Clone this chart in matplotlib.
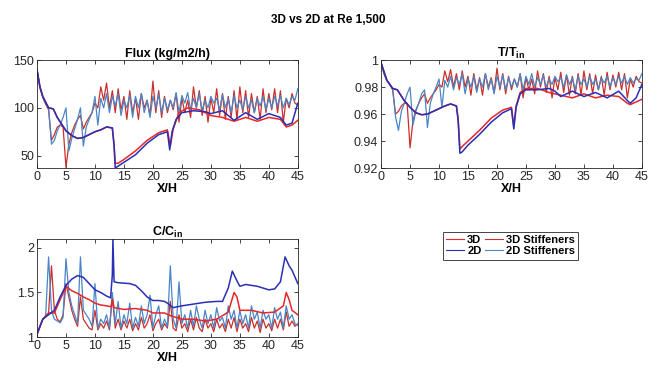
import numpy as np
import matplotlib
matplotlib.use("Agg")
import matplotlib.pyplot as plt
from matplotlib.lines import Line2D

plt.rcParams['font.family'] = ['Liberation Sans', 'DejaVu Sans']
plt.rcParams['mathtext.fontset'] = 'custom'
plt.rcParams['mathtext.bf'] = 'Liberation Sans:bold'
plt.rcParams['mathtext.rm'] = 'Liberation Sans'

# common grid for the stiffener runs
xs = np.arange(0, 45.5, 0.5)

# ---- Flux (kg/m2/h) ----
flux_2d_x = [0, 0.5, 1, 2, 2.8, 3.5, 5, 6, 7, 8, 9, 10, 11, 12, 13, 13.3, 13.5,
             14, 15, 17, 19, 21, 22.5, 22.9, 23.3, 24, 25, 27, 29, 30, 32, 34,
             36, 38, 40, 42, 43, 44, 45]
flux_2d = [140, 122, 112, 100, 99, 90, 76, 71, 68, 69, 72, 75, 77, 80, 79, 60, 37,
           39, 43, 51, 63, 72, 75, 56, 75, 88, 95, 97, 96, 94, 97, 87,
           95, 88, 94, 90, 82, 84, 105]
flux_3d_x = [0, 0.5, 1, 2, 2.8, 3.5, 5, 6, 7, 8, 9, 10, 11, 12, 13, 13.3, 13.5,
             14, 15, 17, 19, 21, 22.5, 23, 23.5, 24.5, 26, 28, 30, 32, 34, 36,
             38, 40, 42, 43, 44, 45]
flux_3d = [140, 122, 112, 100, 99, 90, 76, 71, 68, 69, 72, 75, 77, 80, 79, 62, 42,
           42, 46, 55, 66, 74, 77, 60, 78, 95, 100, 98, 92, 90, 86, 90,
           86, 90, 88, 80, 82, 87]
flux_2d_stiff = [140, 122, 111, 104, 100, 62, 66, 76, 82, 90, 100, 55, 68, 78, 88, 100,
                 60, 80, 88, 95, 112, 82, 110, 100, 115, 95, 112, 102, 115, 92,
                 108, 100, 113, 90, 112, 100, 115, 95, 108, 90, 112, 100, 114, 95,
                 110, 98, 108, 100, 116, 95, 113, 105, 116, 98, 110, 100, 115, 97,
                 108, 100, 112, 105, 110, 98, 114, 100, 110, 95, 113, 100, 108, 98,
                 112, 100, 108, 95, 110, 102, 112, 98, 110, 100, 112, 102, 113, 100,
                 110, 103, 112, 108, 120]
flux_3d_stiff = [140, 122, 111, 104, 98, 66, 72, 80, 82, 80, 38, 62, 74, 82, 88, 92,
                 78, 85, 90, 95, 105, 100, 122, 108, 126, 100, 118, 95, 120, 98,
                 112, 88, 118, 95, 110, 88, 115, 100, 108, 92, 128, 95, 118, 90,
                 112, 95, 108, 98, 115, 85, 110, 95, 108, 90, 122, 100, 118, 92,
                 112, 85, 110, 95, 120, 92, 115, 88, 112, 90, 118, 88, 122, 95,
                 118, 90, 115, 95, 112, 88, 120, 95, 115, 98, 120, 95, 118, 85,
                 110, 100, 115, 105, 103]

# ---- T/Tin ----
t_2d_x = [0, 1, 2, 2.8, 4, 5, 6, 7, 8, 9, 10, 11, 12, 13, 13.3, 13.6, 14, 15, 17,
          19, 21, 22.5, 22.9, 23.3, 24, 25, 27, 29, 30, 31, 33, 35, 37, 39, 41,
          42.5, 43, 44, 45]
t_2d = [0.998, 0.985, 0.979, 0.978, 0.970, 0.965, 0.961, 0.9595, 0.960, 0.962,
        0.964, 0.966, 0.9675, 0.966, 0.955, 0.931, 0.932, 0.937, 0.945, 0.954,
        0.961, 0.964, 0.949, 0.965, 0.975, 0.978, 0.978, 0.979, 0.977, 0.973,
        0.977, 0.973, 0.976, 0.972, 0.977, 0.970, 0.968, 0.972, 0.982]
t_3d_x = [0, 1, 2, 2.8, 4, 5, 6, 7, 8, 9, 10, 11, 12, 13, 13.3, 13.6, 14, 15, 17,
          19, 21, 22.5, 22.9, 23.3, 24, 25, 27, 29, 31, 33, 35, 37, 39, 41, 42.5,
          43, 44, 45]
t_3d = [0.998, 0.985, 0.979, 0.978, 0.970, 0.965, 0.961, 0.9595, 0.960, 0.962,
        0.964, 0.966, 0.9675, 0.966, 0.957, 0.934, 0.936, 0.940, 0.948, 0.957,
        0.963, 0.965, 0.951, 0.966, 0.976, 0.979, 0.979, 0.976, 0.974, 0.972,
        0.975, 0.972, 0.974, 0.973, 0.968, 0.967, 0.969, 0.971]
t_2d_stiff = [0.998, 0.990, 0.985, 0.982, 0.979, 0.958, 0.948, 0.962, 0.968, 0.975,
              0.980, 0.952, 0.962, 0.968, 0.975, 0.978, 0.950, 0.968, 0.975, 0.980,
              0.986, 0.965, 0.985, 0.980, 0.988, 0.978, 0.987, 0.982, 0.990, 0.975,
              0.986, 0.980, 0.988, 0.976, 0.986, 0.980, 0.990, 0.978, 0.986, 0.975,
              0.988, 0.980, 0.989, 0.978, 0.987, 0.980, 0.986, 0.980, 0.990, 0.978,
              0.988, 0.982, 0.990, 0.980, 0.987, 0.982, 0.989, 0.980, 0.986, 0.982,
              0.988, 0.984, 0.987, 0.980, 0.989, 0.982, 0.987, 0.978, 0.988, 0.982,
              0.986, 0.980, 0.988, 0.982, 0.986, 0.978, 0.987, 0.983, 0.988, 0.980,
              0.987, 0.982, 0.988, 0.983, 0.988, 0.982, 0.987, 0.983, 0.986, 0.985,
              0.990]
t_3d_stiff = [0.998, 0.990, 0.985, 0.982, 0.978, 0.960, 0.962, 0.966, 0.968, 0.968,
              0.935, 0.955, 0.963, 0.968, 0.972, 0.975, 0.968, 0.972, 0.975, 0.978,
              0.982, 0.980, 0.992, 0.984, 0.993, 0.980, 0.990, 0.978, 0.992, 0.980,
              0.988, 0.974, 0.990, 0.978, 0.987, 0.974, 0.990, 0.980, 0.987, 0.976,
              0.994, 0.978, 0.990, 0.975, 0.988, 0.978, 0.986, 0.980, 0.990, 0.972,
              0.987, 0.978, 0.986, 0.975, 0.992, 0.980, 0.990, 0.976, 0.988, 0.972,
              0.987, 0.978, 0.991, 0.976, 0.989, 0.974, 0.988, 0.975, 0.990, 0.974,
              0.992, 0.978, 0.990, 0.975, 0.989, 0.978, 0.988, 0.974, 0.991, 0.978,
              0.989, 0.980, 0.991, 0.978, 0.990, 0.972, 0.986, 0.980, 0.988, 0.984,
              0.983]

# ---- C/Cin ----
c_2d_x = [0, 1, 2, 3, 4, 5, 6, 7, 8, 9, 10, 11, 12, 12.7, 13, 13.1, 13.3, 14, 16,
          17, 18, 19, 20, 21, 22, 22.5, 23.5, 25, 27, 29, 31, 32, 33, 33.7, 34.5,
          35, 36, 38, 40, 41, 42, 42.8, 43.5, 44, 45]
c_2d = [1.03, 1.20, 1.25, 1.30, 1.45, 1.58, 1.65, 1.69, 1.67, 1.60, 1.53, 1.50,
        1.46, 1.44, 1.70, 2.10, 1.62, 1.61, 1.60, 1.58, 1.52, 1.45, 1.41, 1.41,
        1.40, 1.38, 1.33, 1.35, 1.37, 1.39, 1.40, 1.40, 1.55, 1.74, 1.63, 1.57,
        1.59, 1.57, 1.53, 1.54, 1.62, 1.90, 1.80, 1.75, 1.60]
c_3d_x = [0, 1, 2, 3, 4, 5, 6, 7, 8, 9, 10, 11, 12, 12.8, 13, 13.3, 15, 17, 19, 20,
          22, 23, 25, 27, 29, 31, 33, 34, 34.5, 35, 37, 39, 41, 42.5, 43, 43.5,
          44, 45]
c_3d = [1.03, 1.20, 1.27, 1.27, 1.42, 1.57, 1.52, 1.49, 1.45, 1.42, 1.38, 1.36,
        1.35, 1.34, 1.42, 1.33, 1.31, 1.32, 1.30, 1.27, 1.27, 1.24, 1.20, 1.20,
        1.18, 1.20, 1.28, 1.50, 1.45, 1.30, 1.30, 1.27, 1.28, 1.35, 1.50, 1.42,
        1.30, 1.25]
c_2d_stiff = [1.03, 1.12, 1.20, 1.24, 1.90, 1.30, 1.20, 1.18, 1.16, 1.22, 1.88,
              1.50, 1.35, 1.25, 1.15, 1.90, 1.30, 1.25, 1.20, 1.12, 1.60, 1.10,
              1.20, 1.15, 1.25, 1.10, 1.50, 1.15, 1.40, 1.10, 1.25, 1.15, 1.38,
              1.10, 1.22, 1.12, 1.35, 1.15, 1.25, 1.47, 1.10, 1.25, 1.35, 1.10,
              1.20, 1.12, 1.80, 1.20, 1.10, 1.62, 1.15, 1.25, 1.10, 1.30, 1.12,
              1.35, 1.20, 1.10, 1.30, 1.15, 1.25, 1.10, 1.33, 1.18, 1.22, 1.10,
              1.35, 1.20, 1.30, 1.10, 1.30, 1.15, 1.25, 1.10, 1.35, 1.20, 1.28,
              1.10, 1.30, 1.20, 1.25, 1.10, 1.33, 1.20, 1.28, 1.10, 1.35, 1.20,
              1.25, 1.15, 1.13]
c_3d_stiff = [1.03, 1.12, 1.20, 1.24, 1.27, 1.80, 1.30, 1.20, 1.17, 1.25, 1.60,
              1.45, 1.30, 1.20, 1.12, 1.45, 1.20, 1.15, 1.10, 1.08, 1.30, 1.08,
              1.15, 1.10, 1.18, 1.08, 1.45, 1.10, 1.20, 1.08, 1.18, 1.10, 1.20,
              1.07, 1.15, 1.08, 1.22, 1.10, 1.15, 1.25, 1.07, 1.15, 1.20, 1.08,
              1.15, 1.10, 1.40, 1.10, 1.07, 1.25, 1.10, 1.15, 1.06, 1.20, 1.08,
              1.22, 1.10, 1.06, 1.20, 1.10, 1.15, 1.06, 1.20, 1.10, 1.15, 1.06,
              1.20, 1.10, 1.22, 1.06, 1.20, 1.10, 1.15, 1.06, 1.22, 1.10, 1.18,
              1.05, 1.20, 1.10, 1.15, 1.07, 1.20, 1.10, 1.20, 1.08, 1.28, 1.12,
              1.18, 1.12, 1.15]

C3D = '#e8262a'
C3DS = '#c9302c'
C2D = '#2a2fb5'
C2DS = '#4a85c5'
TXT = '#262626'


def style_axes(ax, title, ylim, yticks):
    ax.set_xlim(0, 45)
    ax.set_ylim(*ylim)
    ax.set_xticks(range(0, 46, 5))
    ax.set_yticks(yticks)
    ax.set_yticklabels(['{:g}'.format(v) for v in yticks])
    ax.tick_params(direction='in', length=3, width=0.6, labelsize=9,
                   colors=TXT, top=True, right=True, pad=2)
    for sp in ax.spines.values():
        sp.set_linewidth(0.6)
        sp.set_color(TXT)
    ax.set_title(title, fontsize=9, fontweight='bold', pad=2, color='black')
    ax.set_xlabel('X/H', fontsize=9, fontweight='bold', labelpad=0)


fig = plt.figure(figsize=(6.57, 3.71), dpi=100)
fig.suptitle('3D vs 2D at Re 1,500', fontsize=8.5, fontweight='bold', y=0.962)

ax1 = fig.add_axes([0.0563, 0.547, 0.397, 0.291])
ax1.plot(xs, flux_3d_stiff, color=C3DS, lw=0.9)
ax1.plot(xs, flux_2d_stiff, color=C2DS, lw=0.9)
ax1.plot(flux_3d_x, flux_3d, color=C3D, lw=1.1)
ax1.plot(flux_2d_x, flux_2d, color=C2D, lw=1.1)
style_axes(ax1, 'Flux (kg/m2/h)', (37, 150), [50, 100, 150])

ax2 = fig.add_axes([0.580, 0.547, 0.397, 0.291])
ax2.plot(xs, t_3d_stiff, color=C3DS, lw=0.9)
ax2.plot(xs, t_2d_stiff, color=C2DS, lw=0.9)
ax2.plot(t_3d_x, t_3d, color=C3D, lw=1.1)
ax2.plot(t_2d_x, t_2d, color=C2D, lw=1.1)
style_axes(ax2, r'T/T$_\mathbf{in}$', (0.92, 1.0), [0.92, 0.94, 0.96, 0.98, 1.0])

ax3 = fig.add_axes([0.0563, 0.0916, 0.397, 0.264])
ax3.plot(xs, c_3d_stiff, color=C3DS, lw=0.9)
ax3.plot(xs, c_2d_stiff, color=C2DS, lw=0.9)
ax3.plot(c_3d_x, c_3d, color=C3D, lw=1.1)
ax3.plot(c_2d_x, c_2d, color=C2D, lw=1.1)
style_axes(ax3, r'C/C$_\mathbf{in}$', (1.0, 2.1), [1, 1.5, 2])

handles = [Line2D([], [], color=c, lw=0.8) for c in (C3D, C2D, C3DS, C2DS)]
leg = fig.legend(handles, ['3D', '2D', '3D Stiffeners', '2D Stiffeners'],
                 ncol=2, loc='upper left', bbox_to_anchor=(0.674, 0.375),
                 borderaxespad=0, prop={'weight': 'bold', 'size': 8},
                 handlelength=1.6, handletextpad=0.3, columnspacing=0.3,
                 labelspacing=0.1, borderpad=0.3, fancybox=False, framealpha=1)
leg.get_frame().set_edgecolor(TXT)
leg.get_frame().set_linewidth(0.6)

fig.savefig('out.png', dpi=100)
